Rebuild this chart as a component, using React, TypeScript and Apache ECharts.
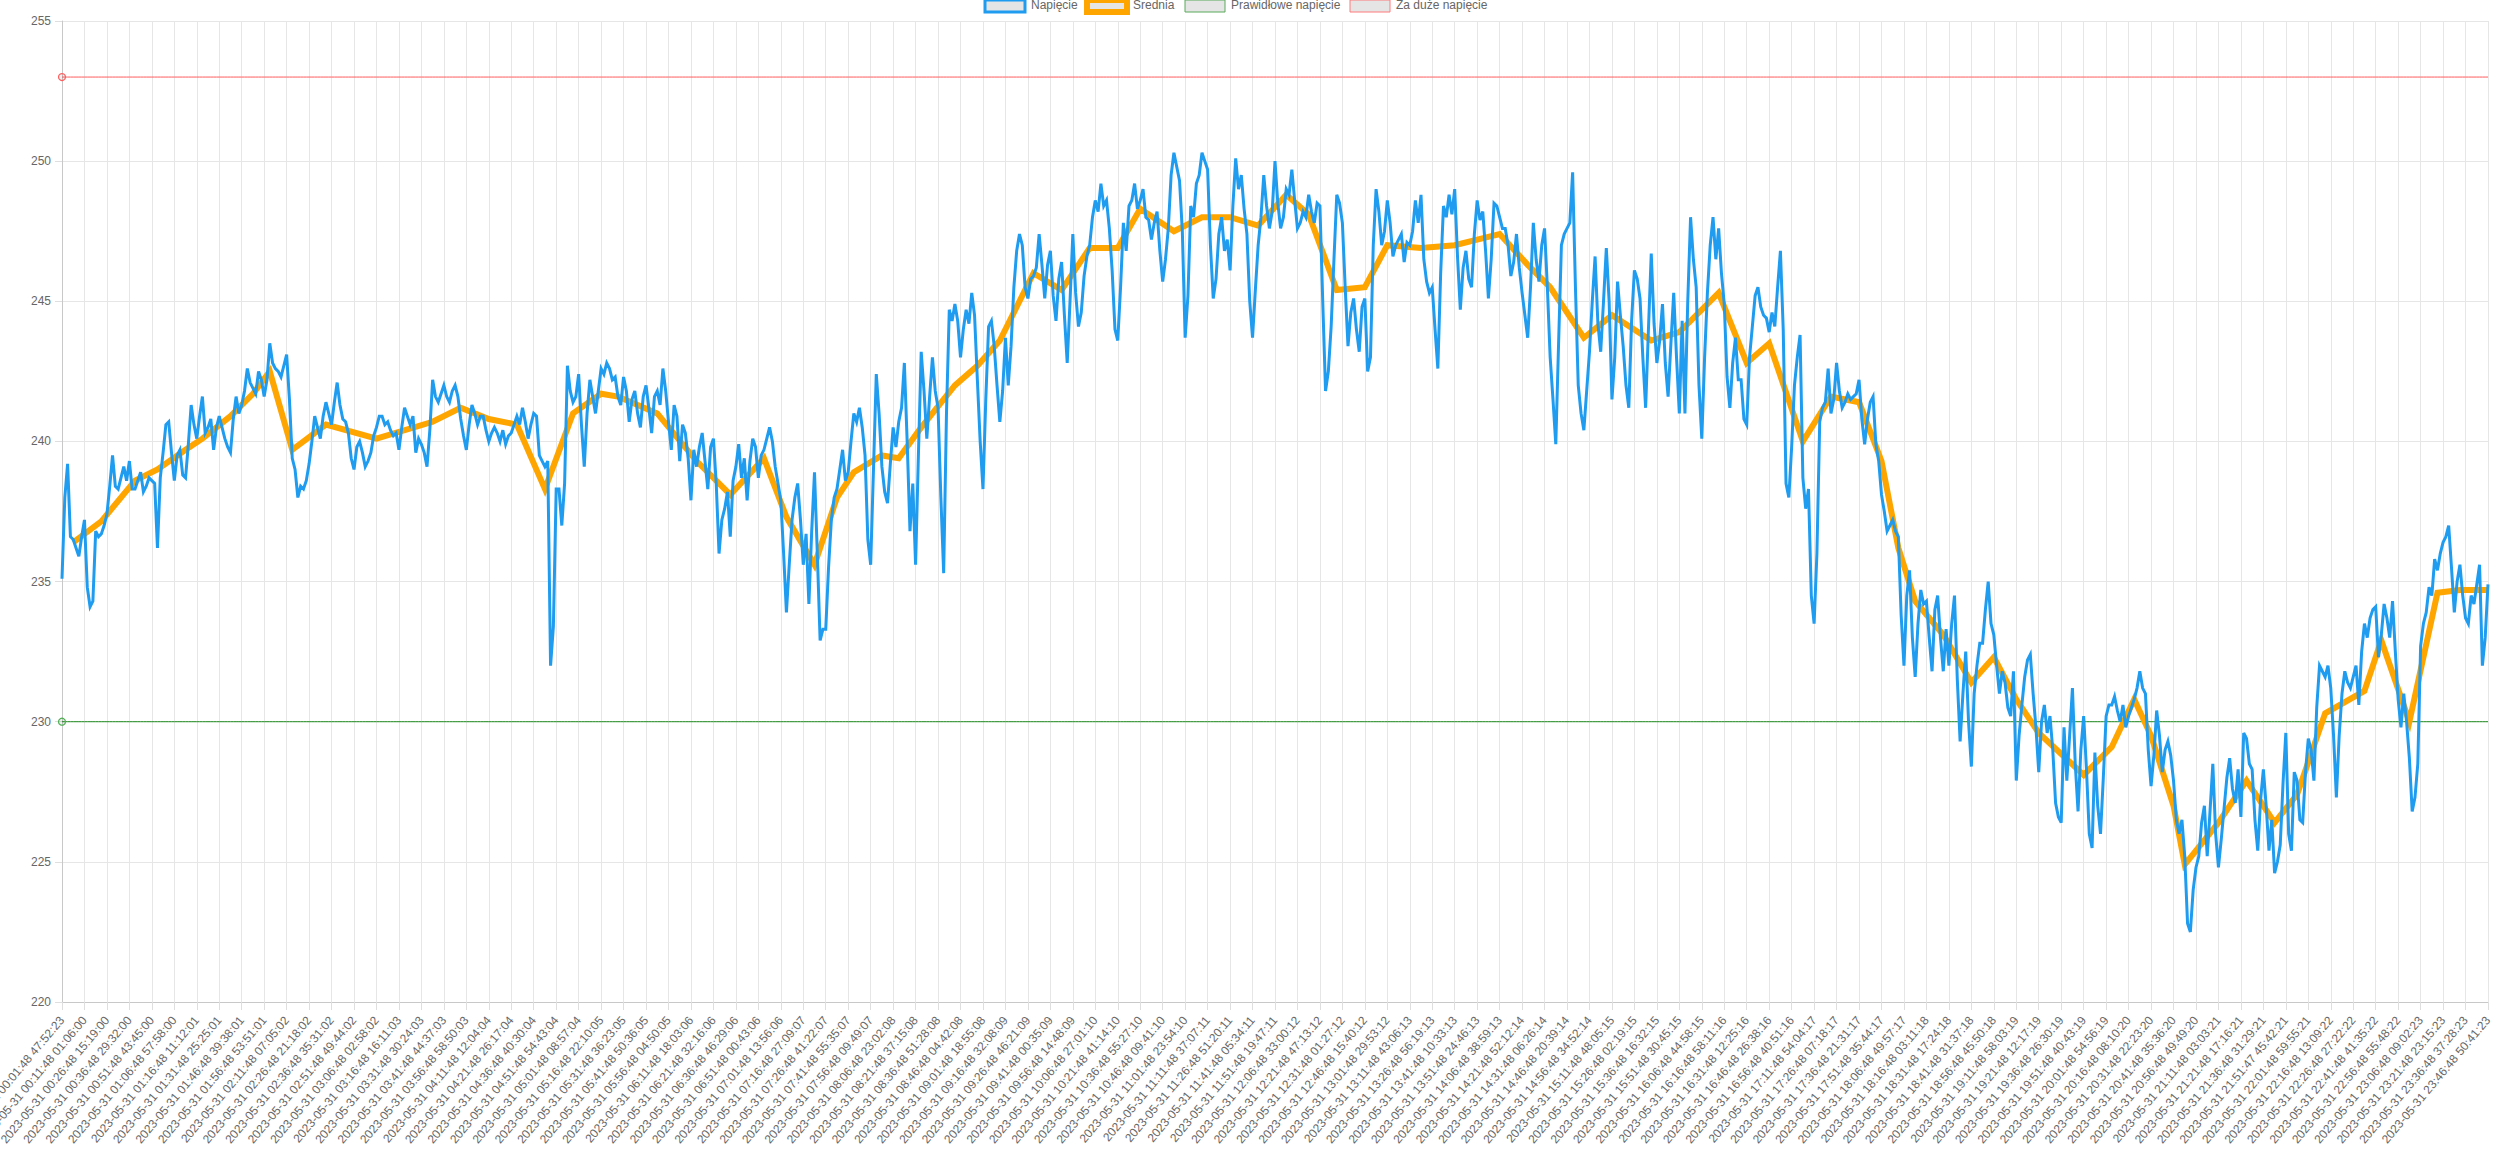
import React, { useEffect, useRef } from "react";
import * as echarts from "echarts";

// ---- tick labels (one per displayed x tick) ----
const tickLabels: string[] = [
  "2023-05-31 00:01:48 47:52:23", "2023-05-31 00:11:48 01:06:00", "2023-05-31 00:26:48 15:19:00",
  "2023-05-31 00:36:48 29:32:00", "2023-05-31 00:51:48 43:45:00", "2023-05-31 01:06:48 57:58:00",
  "2023-05-31 01:16:48 11:12:01", "2023-05-31 01:31:48 25:25:01", "2023-05-31 01:46:48 39:38:01",
  "2023-05-31 01:56:48 53:51:01", "2023-05-31 02:11:48 07:05:02", "2023-05-31 02:26:48 21:18:02",
  "2023-05-31 02:36:48 35:31:02", "2023-05-31 02:51:48 49:44:02", "2023-05-31 03:06:48 02:58:02",
  "2023-05-31 03:16:48 16:11:03", "2023-05-31 03:31:48 30:24:03", "2023-05-31 03:41:48 44:37:03",
  "2023-05-31 03:56:48 58:50:03", "2023-05-31 04:11:48 12:04:04", "2023-05-31 04:21:48 26:17:04",
  "2023-05-31 04:36:48 40:30:04", "2023-05-31 04:51:48 54:43:04", "2023-05-31 05:01:48 08:57:04",
  "2023-05-31 05:16:48 22:10:05", "2023-05-31 05:31:48 36:23:05", "2023-05-31 05:41:48 50:36:05",
  "2023-05-31 05:56:48 04:50:05", "2023-05-31 06:11:48 18:03:06", "2023-05-31 06:21:48 32:16:06",
  "2023-05-31 06:36:48 46:29:06", "2023-05-31 06:51:48 00:43:06", "2023-05-31 07:01:48 13:56:06",
  "2023-05-31 07:16:48 27:09:07", "2023-05-31 07:26:48 41:22:07", "2023-05-31 07:41:48 55:35:07",
  "2023-05-31 07:56:48 09:49:07", "2023-05-31 08:06:48 23:02:08", "2023-05-31 08:21:48 37:15:08",
  "2023-05-31 08:36:48 51:28:08", "2023-05-31 08:46:48 04:42:08", "2023-05-31 09:01:48 18:55:08",
  "2023-05-31 09:16:48 32:08:09", "2023-05-31 09:26:48 46:21:09", "2023-05-31 09:41:48 00:35:09",
  "2023-05-31 09:56:48 14:48:09", "2023-05-31 10:06:48 27:01:10", "2023-05-31 10:21:48 41:14:10",
  "2023-05-31 10:36:48 55:27:10", "2023-05-31 10:46:48 09:41:10", "2023-05-31 11:01:48 23:54:10",
  "2023-05-31 11:11:48 37:07:11", "2023-05-31 11:26:48 51:20:11", "2023-05-31 11:41:48 05:34:11",
  "2023-05-31 11:51:48 19:47:11", "2023-05-31 12:06:48 33:00:12", "2023-05-31 12:21:48 47:13:12",
  "2023-05-31 12:31:48 01:27:12", "2023-05-31 12:46:48 15:40:12", "2023-05-31 13:01:48 29:53:12",
  "2023-05-31 13:11:48 43:06:13", "2023-05-31 13:26:48 56:19:13", "2023-05-31 13:41:48 10:33:13",
  "2023-05-31 13:51:48 24:46:13", "2023-05-31 14:06:48 38:59:13", "2023-05-31 14:21:48 52:12:14",
  "2023-05-31 14:31:48 06:26:14", "2023-05-31 14:46:48 20:39:14", "2023-05-31 14:56:48 34:52:14",
  "2023-05-31 15:11:48 48:05:15", "2023-05-31 15:26:48 02:19:15", "2023-05-31 15:36:48 16:32:15",
  "2023-05-31 15:51:48 30:45:15", "2023-05-31 16:06:48 44:58:15", "2023-05-31 16:16:48 58:11:16",
  "2023-05-31 16:31:48 12:25:16", "2023-05-31 16:46:48 26:38:16", "2023-05-31 16:56:48 40:51:16",
  "2023-05-31 17:11:48 54:04:17", "2023-05-31 17:26:48 07:18:17", "2023-05-31 17:36:48 21:31:17",
  "2023-05-31 17:51:48 35:44:17", "2023-05-31 18:06:48 49:57:17", "2023-05-31 18:16:48 03:11:18",
  "2023-05-31 18:31:48 17:24:18", "2023-05-31 18:41:48 31:37:18", "2023-05-31 18:56:48 45:50:18",
  "2023-05-31 19:11:48 58:03:19", "2023-05-31 19:21:48 12:17:19", "2023-05-31 19:36:48 26:30:19",
  "2023-05-31 19:51:48 40:43:19", "2023-05-31 20:01:48 54:56:19", "2023-05-31 20:16:48 08:10:20",
  "2023-05-31 20:31:48 22:23:20", "2023-05-31 20:41:48 35:36:20", "2023-05-31 20:56:48 49:49:20",
  "2023-05-31 21:11:48 03:03:21", "2023-05-31 21:21:48 17:16:21", "2023-05-31 21:36:48 31:29:21",
  "2023-05-31 21:51:47 45:42:21", "2023-05-31 22:01:48 59:55:21", "2023-05-31 22:16:48 13:09:22",
  "2023-05-31 22:26:48 27:22:22", "2023-05-31 22:41:48 41:35:22", "2023-05-31 22:56:48 55:48:22",
  "2023-05-31 23:06:48 09:02:23", "2023-05-31 23:21:48 23:15:23", "2023-05-31 23:36:48 37:28:23",
  "2023-05-31 23:46:48 50:41:23",
];

// 8 readings per labelled tick: "voltageOnGrid" is read at every quarter tick,
// "voltageBetween" halfway between two consecutive quarter-tick readings.
const READS_PER_TICK = 4;

// ---- "Napięcie" readings at quarter-tick positions ----
const voltageOnGrid: number[] = [
  235.1, 239.2, 236.5, 235.9, 237.2, 234.1, 236.8, 236.7, 237.4, 239.5,
  238.3, 239.1, 239.3, 238.3, 238.9, 238.4, 238.6, 236.2, 239.6, 240.7,
  238.6, 239.7, 238.7, 241.3, 240.1, 241.6, 240.5, 239.7, 240.9, 240.1,
  239.6, 241.6, 241.3, 242.6, 241.9, 242.5, 241.6, 243.5, 242.6, 242.3,
  243.1, 239.4, 238.0, 238.3, 239.2, 240.9, 240.1, 241.4, 240.6, 242.1,
  240.8, 240.3, 239.0, 240.0, 239.1, 239.6, 240.5, 240.9, 240.7, 240.2,
  239.7, 241.2, 240.6, 239.6, 239.9, 239.1, 242.2, 241.4, 242.0, 241.4,
  242.0, 240.8, 239.7, 241.3, 240.6, 240.9, 240.0, 240.5, 240.0, 239.9,
  240.3, 240.9,
  241.2, 240.1, 241.0, 239.5, 239.1, 232.0, 238.3, 237.0, 242.7, 241.4,
  242.4, 239.1, 242.2, 241.0, 242.6, 242.8, 242.2, 241.6, 242.3, 240.7,
  241.8, 240.5, 242.0, 240.3, 241.8, 242.6, 240.7, 241.3, 239.3, 240.3,
  237.9, 239.1, 240.3, 238.3, 240.1, 236.0, 237.6, 236.6, 239.1, 238.7,
  237.9, 240.1, 238.7, 239.7, 240.5, 239.1, 237.9, 233.9, 237.2, 238.5,
  235.6, 234.2, 238.9, 232.9, 233.3, 237.2, 238.3, 239.7, 238.9, 241.0,
  241.2, 239.5, 235.6, 242.4, 239.1, 237.8, 240.5, 240.7, 242.8, 236.8,
  235.6, 243.2, 240.1, 243.0, 241.2, 235.3, 244.7, 244.9, 243.0, 244.7,
  245.3, 242.2, 238.3, 244.1, 243.4, 240.7, 243.7,
  243.4, 246.8, 247.0, 245.1, 245.9, 247.4, 245.1, 246.8, 244.3, 246.4,
  242.8, 247.4, 244.1, 245.9, 247.0, 248.6, 249.2, 248.6, 246.1, 243.6,
  247.8, 248.4, 249.2, 248.6, 248.0, 247.2, 248.2, 245.7, 247.6, 250.3,
  249.3, 243.7, 248.4, 249.2, 250.3, 249.7, 245.1, 247.4, 246.8, 246.1,
  250.1, 249.5, 247.4, 243.7, 247.0, 249.5, 247.6, 250.0, 247.6, 249.0,
  249.7, 247.6, 248.2, 248.8, 247.8, 248.4, 241.8, 244.1, 248.8, 247.8,
  243.4, 245.1, 243.2, 245.1, 243.0, 249.0, 247.0, 248.6, 246.6, 247.2,
  246.4, 247.0, 248.6, 248.8, 245.7, 245.5, 242.6, 248.4, 248.8, 249.0,
  244.7, 246.8, 245.5, 248.6, 248.2, 245.1, 248.5,
  248.0, 247.6, 245.9, 247.4, 245.3, 243.7, 247.8, 245.7, 247.6, 243.0,
  239.9, 247.0, 247.6, 249.6, 242.0, 240.4, 243.2, 246.6, 243.2, 246.9,
  241.5, 245.7, 243.4, 241.2, 246.1, 245.1, 241.2, 246.7, 242.8, 244.9,
  241.6, 245.3, 241.0, 241.0, 248.0, 245.5, 240.1, 245.3, 248.0, 247.6,
  244.9, 241.2, 243.7, 242.2, 240.6, 244.1, 245.5, 244.5, 243.9, 244.1,
  246.8, 238.5, 239.8, 243.0, 238.7, 238.3, 233.5, 240.7, 241.4, 241.0,
  242.8, 241.2, 241.7, 241.6, 242.2, 239.9, 241.4, 239.9, 238.1, 236.8,
  237.2, 236.6, 232.0, 235.4, 231.6, 234.7, 234.3, 231.8, 234.5, 231.8,
  232.0, 234.5, 229.3, 232.5, 228.4, 232.0, 232.8, 235.0,
  233.1, 231.0, 231.4, 230.2, 227.9, 230.6, 232.2, 231.0, 228.2, 230.6,
  230.2, 227.1, 226.4, 227.9, 231.2, 226.8, 230.2, 226.0, 228.9, 226.0,
  230.2, 230.6, 230.4, 230.6, 230.2, 230.8, 231.8, 231.0, 227.7, 230.4,
  228.2, 229.3, 227.9, 226.0, 225.2, 222.5, 224.8, 226.4, 225.2, 228.5,
  224.8, 226.9, 228.7, 227.1, 226.6, 229.4, 228.3, 225.4, 228.3, 225.4,
  224.6, 225.6, 229.6, 225.4, 227.9, 226.4, 229.4, 227.9, 232.0, 231.6,
  231.2, 227.3, 231.0, 231.4, 231.6, 230.6, 233.5, 233.7, 234.1, 233.1,
  233.7, 234.3, 230.8, 231.0, 228.7, 227.3, 232.7, 233.9, 234.5, 235.4,
  236.4, 237.0, 233.9, 235.6, 233.7, 234.5, 234.9, 232.0, 234.9,
];

// ---- "Napięcie" readings halfway between the grid readings ----
const voltageBetween: number[] = [
  238.0, 236.6, 236.2, 236.6, 234.8, 234.3, 236.6, 237.0, 238.4, 238.4,
  238.7, 238.6, 238.3, 238.6, 238.2, 238.7, 238.5, 238.7, 240.6, 239.6,
  239.5, 238.8, 239.9, 240.6, 240.9, 240.3, 240.8, 240.5, 240.5, 239.8,
  240.8, 241.0, 241.8, 242.1, 241.7, 242.2, 242.2, 242.8, 242.5, 242.7,
  241.5, 239.0, 238.4, 238.6, 240.0, 240.5, 240.9, 241.0, 241.4, 241.3,
  240.7, 239.4, 239.8, 239.6, 239.3, 240.2, 240.9, 240.6, 240.4, 240.3,
  240.5, 240.9, 240.9, 240.1, 239.6, 240.4, 241.6, 241.7, 241.6, 241.8,
  241.6, 240.2, 240.6, 241.0, 240.9, 240.4, 240.3, 240.3, 240.4, 240.2,
  240.6, 240.6,
  240.7, 240.6, 240.9, 239.3, 239.3, 233.4, 238.3, 238.5,
  241.8, 241.6, 240.6, 241.0, 241.6, 241.8, 242.4, 242.6, 242.3, 241.3,
  241.8, 241.5, 241.0, 241.6, 241.2, 241.6, 241.3, 241.8, 239.7, 240.9,
  240.6, 239.4, 239.7, 239.8, 239.3, 239.8, 238.5, 237.2, 238.2, 238.6,
  239.9, 239.4, 239.3, 239.8, 239.5, 240.1, 240.0, 238.5, 236.0, 235.6,
  238.0, 237.2, 236.7, 236.8, 236.0, 233.3, 235.5, 238.0, 239.0, 238.6,
  240.0, 240.7, 240.5, 236.5, 239.0, 241.0, 238.2, 239.2, 239.8, 241.2,
  240.0, 238.5, 239.5, 241.8, 241.6, 241.8, 238.0, 241.0, 244.3, 244.3,
  244.0, 244.2, 244.5, 240.0, 241.5, 244.3, 242.0, 241.8,
  242.0, 245.5,
  247.4, 245.5, 245.8, 246.2, 246.3, 246.3, 245.2, 245.8, 244.5, 245.0,
  245.3, 244.6, 246.6, 248.0, 248.2, 248.4, 247.6, 244.0, 245.5, 246.8,
  248.6, 248.3, 249.0, 247.9, 247.8, 246.8, 246.5, 249.5, 249.8, 247.5,
  245.2, 248.0, 249.5, 250.0, 247.0, 245.8, 248.0, 247.2, 248.4, 249.0,
  248.3, 245.0, 245.4, 248.0, 248.4, 248.2, 248.5, 248.0, 248.8, 248.6,
  247.8, 248.0, 248.2, 248.5, 245.0, 242.5, 246.5, 248.5, 245.5, 244.6,
  244.0, 244.8, 242.5, 247.0, 248.2, 247.5, 247.8, 247.0, 247.4, 247.1,
  247.5, 247.8, 246.5, 245.3, 244.0, 246.0, 248.0, 248.1, 246.6, 246.2,
  245.8, 247.4, 247.9, 246.8, 246.5,
  248.4, 247.6, 247.0, 246.4, 246.2,
  244.5, 245.5, 246.5, 247.0, 245.5, 241.5, 243.5, 247.4, 247.8, 245.5,
  241.0, 241.8, 245.0, 244.2, 245.0, 245.0, 243.0, 244.5, 242.0, 244.3,
  245.8, 243.0, 244.0, 244.2, 243.6, 242.8, 243.5, 243.0, 244.3, 245.0,
  246.5, 242.0, 243.0, 247.0, 246.5, 246.0, 242.3, 242.8, 242.2, 240.8,
  243.0, 245.2, 244.8, 244.4, 244.6, 245.5, 244.0, 238.0, 242.0, 243.8,
  237.6, 234.5, 236.0, 241.2, 242.6, 241.5, 241.8, 241.4, 241.5, 241.7,
  240.8, 240.8, 241.6, 239.3, 237.5, 237.0, 236.8, 233.8, 234.5, 233.0,
  233.5, 234.2, 233.0, 234.0, 233.0, 233.3, 233.5, 231.5, 231.0, 230.0,
  231.0, 232.8, 234.0,
  233.5, 232.0, 231.8, 230.5, 231.8, 229.5, 231.6,
  232.4, 229.8, 230.0, 229.6, 229.0, 226.6, 229.8, 229.5, 228.5, 229.0,
  228.3, 225.5, 227.0, 228.0, 230.6, 230.9, 230.0, 229.8, 230.5, 231.2,
  231.2, 229.0, 228.8, 229.5, 229.0, 228.8, 226.5, 226.5, 222.8, 224.0,
  225.2, 227.0, 226.8, 226.0, 225.8, 228.0, 227.6, 228.3, 229.6, 228.5,
  226.5, 227.2, 227.0, 226.5, 225.0, 227.8, 226.0, 228.2, 226.5, 228.2,
  229.0, 230.5, 231.8, 232.0, 229.5, 229.5, 231.8, 231.2, 232.0, 232.5,
  233.0, 234.0, 232.3, 234.2, 233.0, 232.5, 229.8, 230.0, 226.8, 228.5,
  233.5, 234.8, 235.8, 236.0, 236.6, 235.5, 235.0, 234.5, 233.5, 234.2,
  235.6, 233.0,
];

// ---- "Średnia" (average) vertices: quarter-tick position and value ----
const averageIndex: number[] = [
  2, 7, 13, 17, 22, 25, 30, 34, 37, 41, 47, 56, 66, 71, 76, 81, 86, 91, 96, 99,
  106, 113, 119, 125, 129, 134, 138, 141, 146, 149, 153, 159, 163, 167, 170, 173, 178, 183, 188, 192,
  198, 203, 208, 213, 218, 222, 227, 232, 236, 242, 248, 252, 256, 261, 265, 271, 276, 283, 288, 295,
  300, 304, 310, 315, 320, 324, 327, 330, 335, 340, 344, 348, 352, 360, 365, 369, 372, 376, 378, 384,
  389, 394, 398, 403, 410, 413, 418, 423, 427, 432,
];
const averageValue: number[] = [
  236.4, 237.15, 238.6, 239.0, 239.7, 240.1, 240.9, 241.7, 242.5, 239.7, 240.6, 240.1, 240.7, 241.2, 240.8, 240.6, 238.3, 241.0, 241.7, 241.6,
  241.0, 239.3, 238.1, 239.4, 237.3, 235.6, 238.0, 238.9, 239.5, 239.4, 240.5, 242.0, 242.7, 243.6, 244.8, 246.0, 245.4, 246.9, 246.9, 248.3,
  247.5, 248.0, 248.0, 247.7, 248.8, 248.1, 245.4, 245.5, 247.0, 246.9, 247.0, 247.2, 247.4, 246.3, 245.5, 243.7, 244.5, 243.6, 243.9, 245.3,
  242.8, 243.5, 240.0, 241.6, 241.4, 239.3, 236.2, 234.3, 233.1, 231.4, 232.3, 230.8, 229.6, 228.1, 229.1, 230.8, 229.5, 227.0, 224.9, 226.4,
  227.9, 226.4, 227.4, 230.3, 231.1, 232.9, 230.0, 234.6, 234.7, 234.7,
];

// ---- reference levels ----
const correctVoltage = 230; // "Prawidłowe napięcie"
const tooHighVoltage = 253; // "Za duże napięcie"

const yMin = 220;
const yMax = 255;
const yStep = 5;

const seriesNames = ["Napięcie", "Średnia", "Prawidłowe napięcie", "Za duże napięcie"];
const BLUE = "#1f9cf0";
const ORANGE = "#ffa500";
const GREEN = "#1c8a1c";
const RED = "#ff5c5c";
const FONT = '"Liberation Sans", Arial, Helvetica, sans-serif';

export default function App() {
  const ref = useRef<HTMLDivElement>(null);

  useEffect(() => {
    if (!ref.current) return;
    const chart = echarts.init(ref.current, undefined, { renderer: "svg" });

    // interleave the two reading sets
    const voltage: number[] = [];
    voltageOnGrid.forEach((v, i) => {
      voltage.push(v);
      if (i < voltageOnGrid.length - 1) {
        const b = voltageBetween[i];
        voltage.push(b !== undefined ? b : v);
      }
    });
    const perTick = READS_PER_TICK * 2;
    const n = voltage.length;
    const categories = voltage.map((_, i) =>
      i % perTick === 0
        ? tickLabels[i / perTick]
        : tickLabels[Math.floor(i / perTick)] + " +" + (i % perTick)
    );
    const isTick = (i: number) => i % perTick === 0;

    const avgData: (number | null)[] = new Array(n).fill(null);
    averageIndex.forEach((idx, k) => {
      avgData[idx * 2] = averageValue[k];
    });
    const greenData = voltage.map(() => correctVoltage);
    const redData = voltage.map(() => tooHighVoltage);

    const firstOnly = (_v: any, p: any) => (p.dataIndex === 0 ? "circle" : "none");

    const legendItems = [
      { boxX: 985, textX: 1031, stroke: BLUE, lw: 3, name: seriesNames[0] },
      { boxX: 1087, textX: 1133, stroke: ORANGE, lw: 6, name: seriesNames[1] },
      { boxX: 1185, textX: 1231, stroke: "#5aaa5a", lw: 1, name: seriesNames[2] },
      { boxX: 1350, textX: 1396, stroke: "#ff7a7a", lw: 1, name: seriesNames[3] },
    ];
    const graphic: any[] = [];
    legendItems.forEach((it) => {
      graphic.push({
        type: "rect",
        shape: { x: it.boxX, y: 0, width: 40, height: 12 },
        style: { fill: "rgba(0,0,0,0.1)", stroke: it.stroke, lineWidth: it.lw },
        z: 10,
      });
      graphic.push({
        type: "text",
        x: it.textX,
        y: 5,
        style: {
          text: it.name,
          fill: "#666",
          fontSize: 12,
          fontFamily: FONT,
          verticalAlign: "middle",
          align: "left",
        },
        z: 10,
      });
    });

    chart.setOption({
      animation: false,
      backgroundColor: "#ffffff",
      graphic,
      grid: {
        left: 62,
        right: 5,
        top: 21,
        bottom: 155,
        containLabel: false,
        outerBoundsMode: "none",
      },
      xAxis: {
        type: "category",
        boundaryGap: false,
        data: categories,
        axisLine: { show: true, lineStyle: { color: "#c8c8c8", width: 1 } },
        axisTick: { show: true, interval: isTick, length: 8, lineStyle: { color: "#dedede" } },
        axisLabel: {
          interval: isTick,
          rotate: 50,
          margin: 16,
          fontSize: 12,
          color: "#666",
          fontFamily: FONT,
          hideOverlap: false,
          formatter: (v: string, i: number) => (isTick(i) ? v : ""),
        },
        splitLine: { show: true, interval: isTick, lineStyle: { color: "#e6e6e6", width: 1 } },
      },
      yAxis: {
        type: "value",
        min: yMin,
        max: yMax,
        interval: yStep,
        axisLine: { show: true, lineStyle: { color: "#c8c8c8", width: 1 } },
        axisTick: { show: true, length: 7, lineStyle: { color: "#dedede" } },
        axisLabel: { margin: 11, fontSize: 12, color: "#666", fontFamily: FONT },
        splitLine: { show: true, lineStyle: { color: "#e6e6e6", width: 1 } },
      },
      series: [
        {
          name: seriesNames[3],
          type: "line",
          data: redData,
          symbol: firstOnly,
          symbolSize: 7,
          showAllSymbol: true,
          itemStyle: { color: "rgba(0,0,0,0.06)", borderColor: RED, borderWidth: 1.2 },
          lineStyle: { color: RED, width: 1 },
          z: 2,
          silent: true,
        },
        {
          name: seriesNames[2],
          type: "line",
          data: greenData,
          symbol: firstOnly,
          symbolSize: 7,
          showAllSymbol: true,
          itemStyle: { color: "rgba(0,0,0,0.06)", borderColor: "#4caf50", borderWidth: 1.2 },
          lineStyle: { color: GREEN, width: 1 },
          z: 2,
          silent: true,
        },
        {
          name: seriesNames[1],
          type: "line",
          data: avgData,
          connectNulls: true,
          symbol: "none",
          lineStyle: { color: ORANGE, width: 6, join: "miter" },
          z: 3,
        },
        {
          name: seriesNames[0],
          type: "line",
          data: voltage,
          symbol: "none",
          lineStyle: { color: BLUE, width: 3, join: "miter", miterLimit: 4 },
          z: 4,
        },
      ],
    });

    return () => {
      chart.dispose();
    };
  }, []);

  return (
    <div
      ref={ref}
      style={{ position: "fixed", left: 0, top: 0, width: "2493px", height: "1157px", background: "#fff" }}
    />
  );
}
